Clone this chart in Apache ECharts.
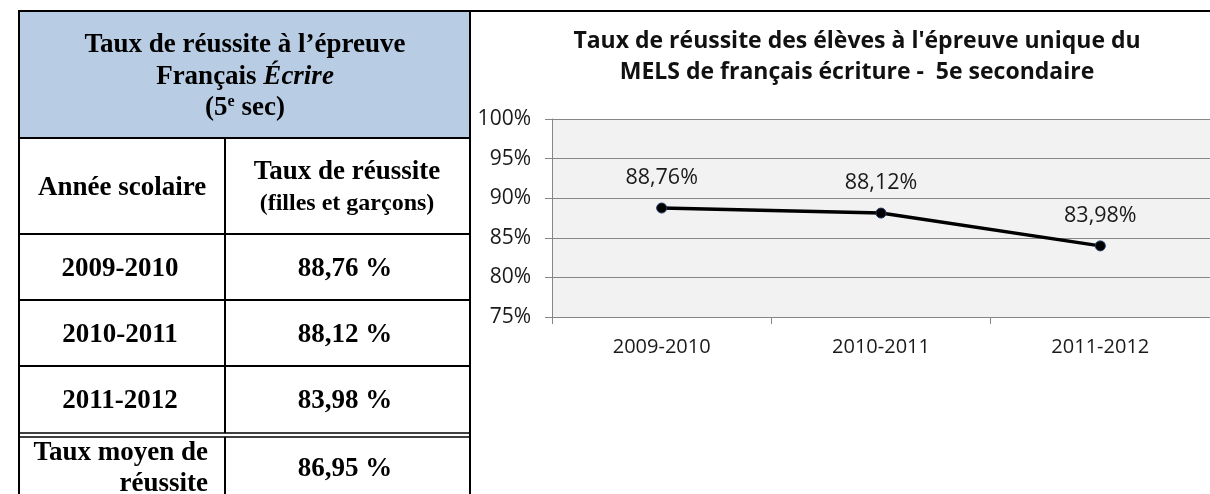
<!DOCTYPE html>
<html>
<head>
<meta charset="utf-8">
<script src="https://cdn.jsdelivr.net/npm/echarts@6/dist/echarts.min.js"></script>
<style>
  html, body { margin: 0; padding: 0; background: #fff; }
  #main { width: 1210px; height: 494px; }
</style>
</head>
<body>
<div id="main"></div>
<script>
// données
var years = ["2009-2010", "2010-2011", "2011-2012"];
var rates = [88.76, 88.12, 83.98];
var averageRate = 86.95;
var yTicks = [75, 80, 85, 90, 95, 100];

function fr(v) {
  return v.toFixed(2).replace(".", ",");
}

var chart = echarts.init(document.getElementById("main"));

// tableau de gauche
var serif = "'Liberation Serif', 'DejaVu Serif', serif";
var colL = 120, colR = 345;
var rowTops = [234, 300, 366];
var tableEls = [];

tableEls.push({ type: "rect", shape: { x: 19, y: 11, width: 451, height: 127 },
  style: { fill: "#B8CCE4" } });

function hline(y, x1, x2, w) {
  tableEls.push({ type: "line", shape: { x1: x1, y1: y, x2: x2, y2: y },
    style: { stroke: "#000", lineWidth: w || 2 } });
}
function vline(x, y1, y2) {
  tableEls.push({ type: "line", shape: { x1: x, y1: y1, x2: x, y2: y2 },
    style: { stroke: "#000", lineWidth: 2 } });
}
function txt(x, y, text, size, align, extra) {
  var st = { text: text, x: x, y: y, font: "bold " + size + "px " + serif,
    fill: "#000", align: align || "center", verticalAlign: "middle" };
  if (extra) for (var k in extra) st[k] = extra[k];
  tableEls.push({ type: "text", style: st });
}

hline(11, 18, 1210);
vline(19, 11, 494);
vline(470, 11, 494);
hline(138, 19, 470);
hline(234, 19, 470);
hline(300, 19, 470);
hline(366, 19, 470);
hline(433, 19, 470, 1.5);
hline(437, 19, 470, 1.5);
vline(225, 138, 433);
vline(225, 437, 494);

txt(245, 45, "Taux de réussite à l’épreuve", 27);
txt(245, 77, "{b|Français }{i|Écrire}", 27, "center", {
  rich: {
    b: { font: "bold 27px " + serif, fill: "#000" },
    i: { font: "italic bold 27px " + serif, fill: "#000" }
  }
});
txt(245, 108, "{b|(5}{s|e}{b| sec)}", 27, "center", {
  rich: {
    b: { font: "bold 27px " + serif, fill: "#000", verticalAlign: "bottom" },
    s: { font: "bold 16px " + serif, fill: "#000", verticalAlign: "top", padding: [0, 0, 12, 0] }
  }
});

txt(colL + 2, 188, "Année scolaire", 27);
txt(colR + 2, 172, "Taux de réussite", 27);
txt(colR + 2, 204, "(filles et garçons)", 24);

years.forEach(function (y, i) {
  var cy = rowTops[i] + 35;
  txt(colL, cy, y, 27);
  txt(colR, cy, fr(rates[i]) + " %", 27);
});

txt(208, 453, "Taux moyen de", 27, "right");
txt(208, 484, "réussite", 27, "right");
txt(colR, 469, fr(averageRate) + " %", 27);

var sans = "'Open Sans', 'Noto Sans', sans-serif";

chart.setOption({
  animation: false,
  backgroundColor: "#fff",
  title: {
    text: "Taux de réussite des élèves à l'épreuve unique du\nMELS de français écriture -  5e secondaire",
    left: 852,
    top: 21,
    textAlign: "center",
    textStyle: { fontFamily: sans, fontSize: 23, fontWeight: "bold", color: "#111", lineHeight: 31 }
  },
  graphic: tableEls,
  grid: {
    left: 552, top: 119, width: 666, height: 198,
    show: true, backgroundColor: "#F2F2F2", borderWidth: 0
  },
  xAxis: {
    type: "category",
    data: years,
    boundaryGap: true,
    axisLine: { lineStyle: { color: "#868686", width: 1 } },
    axisTick: { show: true, length: 7, lineStyle: { color: "#868686" } },
    axisLabel: { fontFamily: sans, fontSize: 20, color: "#1a1a1a", margin: 20 }
  },
  yAxis: {
    type: "value",
    min: yTicks[0],
    max: yTicks[yTicks.length - 1],
    interval: 5,
    axisLine: { show: true, lineStyle: { color: "#868686", width: 1 } },
    axisTick: { show: true, length: 7, lineStyle: { color: "#868686" } },
    splitLine: { lineStyle: { color: "#868686", width: 1 } },
    axisLabel: { fontFamily: sans, fontSize: 21, color: "#1a1a1a", margin: 21,
      formatter: "{value}%" }
  },
  series: [{
    type: "line",
    data: rates,
    symbol: "circle",
    symbolSize: 10,
    lineStyle: { color: "#000", width: 3.5 },
    itemStyle: { color: "#000", borderColor: "#1F3864", borderWidth: 1 },
    label: {
      show: true,
      position: "top",
      distance: 14,
      fontFamily: sans,
      fontSize: 21.5,
      color: "#1a1a1a",
      formatter: function (p) { return fr(p.value) + "%"; }
    }
  }]
});
</script>
</body>
</html>
